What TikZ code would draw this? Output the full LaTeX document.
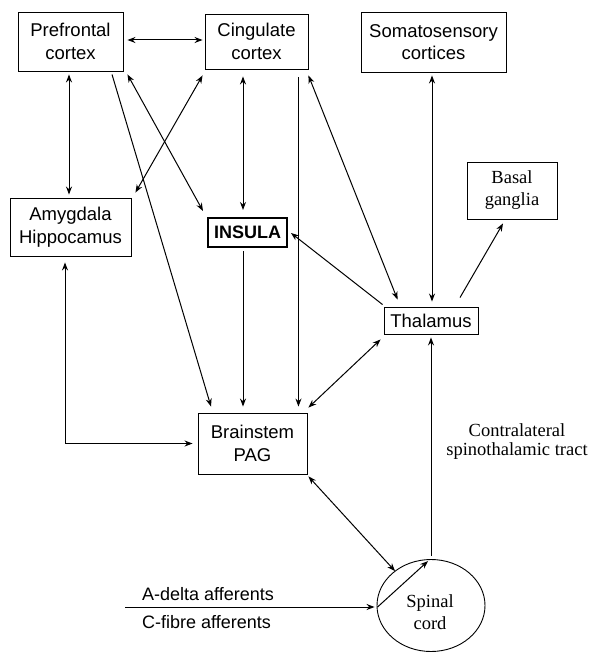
\documentclass[tikz,border=0pt]{standalone}
\usepackage{fontspec}
\setmainfont{Liberation Serif}
\setsansfont{Liberation Sans}
\usetikzlibrary{arrows.meta,shapes.geometric}

\begin{document}
\begin{tikzpicture}[x=1pt,y=-1pt,
	brainbox/.style={draw,line width=0.9pt,inner sep=0pt,align=center,
		font=\sffamily\fontsize{18.5}{22.5}\selectfont},
	serifbox/.style={draw,line width=0.9pt,inner sep=0pt,align=center,
		font=\rmfamily\fontsize{18.5}{22}\selectfont},
	link/.style={line width=1pt,-{Stealth[length=8pt,width=6pt]}},
	twoway/.style={line width=1pt,{Stealth[length=8pt,width=6pt]}-{Stealth[length=8pt,width=6pt]}}]
	\useasboundingbox (0,0) rectangle (592,652);
	\node[brainbox,minimum width=105pt,minimum height=59pt] (pfc) at (70.5,41.5) {Prefrontal\\cortex};
	\node[brainbox,minimum width=103pt,minimum height=55pt] (cing) at (256.5,41.5) {Cingulate\\cortex};
	\node[brainbox,minimum width=145pt,minimum height=60pt] (soma) at (433.5,42) {Somatosensory\\cortices};
	\node[serifbox,minimum width=90pt,minimum height=57pt] (basal) at (512,190.5) {Basal\\ganglia};
	\node[brainbox,minimum width=121pt,minimum height=58pt] (amyg) at (70.5,227) {Amygdala\\Hippocamus};
	\node[brainbox,line width=2pt,minimum width=79pt,minimum height=29pt,font=\sffamily\bfseries\fontsize{18}{22}\selectfont] (insula) at (247.5,232.5) {INSULA};
	\node[brainbox,minimum width=94pt,minimum height=27pt] (thal) at (431,320.5) {Thalamus};
	\node[brainbox,minimum width=109pt,minimum height=61pt] (brain) at (252.5,443.5) {Brainstem\\PAG};
	\node[draw,ellipse,line width=0.9pt,inner sep=0pt,minimum width=108pt,minimum height=92pt] (spinal) at (431,605.5) {};
	\node[align=center,font=\rmfamily\fontsize{18.5}{22}\selectfont] (spinaltxt) at (430,612) {Spinal\\cord};
	\node[align=center,font=\rmfamily\fontsize{18.5}{19}\selectfont] (tract) at (517,442) {Contralateral\\spinothalamic tract};
	\node[anchor=west,inner sep=0pt,font=\sffamily\fontsize{18}{22}\selectfont] (adelta) at (142,594) {A-delta afferents};
	\node[anchor=west,inner sep=0pt,font=\sffamily\fontsize{18}{22}\selectfont] (cfibre) at (142,622) {C-fibre afferents};
	\coordinate (aff) at (125,607);

	\draw[twoway] ([xshift=4pt,yshift=1.5pt]pfc.east) -- ([xshift=-2pt,yshift=1.5pt]cing.west);
	\draw[twoway] ([xshift=-1.5pt,yshift=-3pt]pfc.south) -- ([xshift=-1.5pt,yshift=3pt]amyg.north);
	\draw[link] ([xshift=41.5pt,yshift=-3pt]pfc.south) -- ([xshift=-41.5pt,yshift=6pt]brain.north);
	\draw[twoway] ([xshift=4pt,yshift=-3pt]pfc.south east) -- ([xshift=-4pt,yshift=6pt]insula.north west);
	\draw[twoway] ([xshift=-2pt,yshift=-6pt]cing.south west) -- ([xshift=4pt,yshift=5pt]amyg.north east);
	\draw[twoway] ([xshift=-13.5pt,yshift=-7pt]cing.south) -- ([xshift=-4.5pt,yshift=7pt]insula.north);
	\draw[link] ([xshift=-10pt,yshift=-8pt]cing.south east) -- ([xshift=-9pt,yshift=6pt]brain.north east);
	\draw[link] ([xshift=-4.5pt,yshift=-3pt]insula.south) -- ([xshift=-9.5pt,yshift=6pt]brain.north);
	\draw[twoway] ([yshift=-6pt]cing.south east) -- ([xshift=14pt,yshift=7pt]thal.north west);
	\draw[link] ([xshift=-1pt,yshift=2pt]thal.north west) -- ([xshift=3pt,yshift=-0.5pt]insula.east);
	\draw[twoway] ([xshift=-1.5pt,yshift=-3pt]soma.south) -- ([xshift=1pt,yshift=5pt]thal.north);
	\draw[link] ([xshift=29pt,yshift=9pt]thal.north) -- ([xshift=-9pt,yshift=-4pt]basal.south);
	\draw[twoway] ([xshift=-3pt,yshift=-5pt]thal.south west) -- ([xshift=1pt,yshift=5pt]brain.north east);
	\draw[twoway] ([xshift=-5.5pt,yshift=-6pt]amyg.south) |- ([xshift=-5pt]brain.west);
	\draw[twoway] ([xshift=1pt,yshift=-2pt]brain.south east) -- ([xshift=-2pt,yshift=-2pt]spinal.133);
	\draw[link] ([yshift=3pt]spinal.north) -- ([yshift=-3pt]thal.south);
	\draw[link] (aff) -- ([xshift=-2pt,yshift=-1.5pt]spinal.west);
	\draw[link] ([xshift=1pt,yshift=-1.5pt]spinal.west) -- ([xshift=-3pt,yshift=-2pt]spinal.north);
\end{tikzpicture}
\end{document}
